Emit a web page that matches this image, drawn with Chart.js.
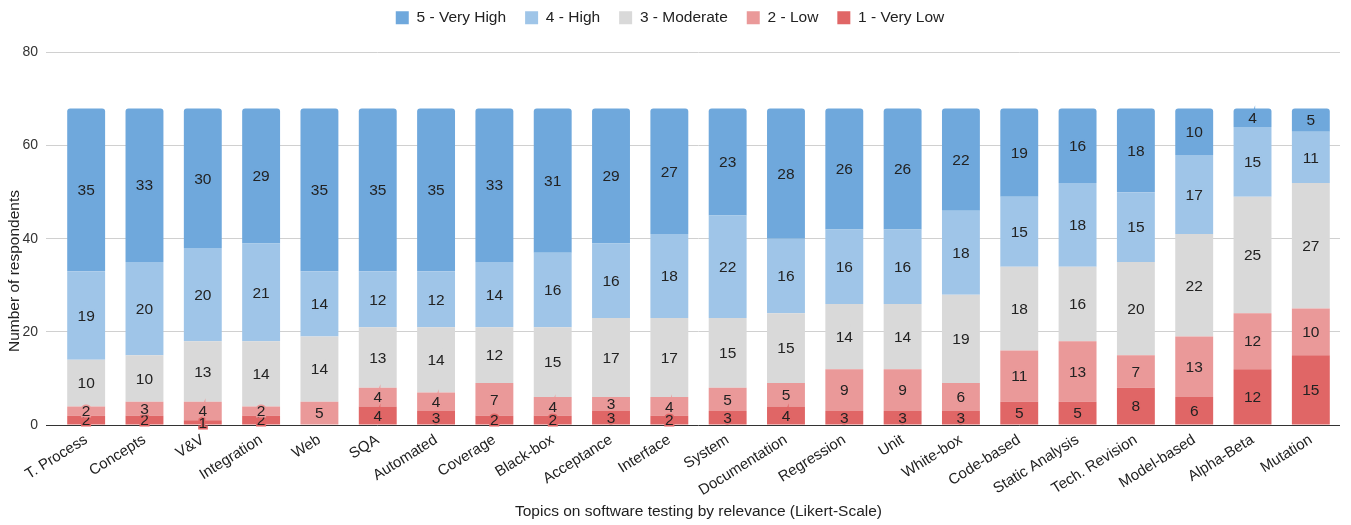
<!DOCTYPE html>
<html>
<head>
<meta charset="utf-8">
<script src="https://cdn.jsdelivr.net/npm/chart.js@4"></script>
<style>
  html, body { margin: 0; padding: 0; background: #fff; }
  #wrap { width: 1351px; height: 525px; position: relative; }
</style>
</head>
<body>
<div id="wrap"><canvas id="likertChart"></canvas></div>
<script>
var topics = ['T. Process', 'Concepts', 'V&V', 'Integration', 'Web', 'SQA', 'Automated', 'Coverage',
  'Black-box', 'Acceptance', 'Interface', 'System', 'Documentation', 'Regression', 'Unit', 'White-box',
  'Code-based', 'Static Analysis', 'Tech. Revision', 'Model-based', 'Alpha-Beta', 'Mutation'];

var veryHigh = [35, 33, 30, 29, 35, 35, 35, 33, 31, 29, 27, 23, 28, 26, 26, 22, 19, 16, 18, 10, 4, 5];
var high     = [19, 20, 20, 21, 14, 12, 12, 14, 16, 16, 18, 22, 16, 16, 16, 18, 15, 18, 15, 17, 15, 11];
var moderate = [10, 10, 13, 14, 14, 13, 14, 12, 15, 17, 17, 15, 15, 14, 14, 19, 18, 16, 20, 22, 25, 27];
var low      = [2, 3, 4, 2, 5, 4, 4, 7, 4, 3, 4, 5, 5, 9, 9, 6, 11, 13, 7, 13, 12, 10];
var veryLow  = [2, 2, 1, 2, 0, 4, 3, 2, 2, 3, 2, 3, 4, 3, 3, 3, 5, 5, 8, 6, 12, 15];

var yTicks = [0, 20, 40, 60, 80];

var fontFamily = "'Liberation Sans', Arial, sans-serif";

// write the value in the middle of every segment
var segmentLabels = {
  id: 'segmentLabels',
  afterDatasetsDraw: function (chart) {
    var ctx = chart.ctx;
    ctx.save();
    ctx.font = '15.5px ' + fontFamily;
    ctx.textAlign = 'center';
    ctx.textBaseline = 'middle';
    chart.data.datasets.forEach(function (ds, i) {
      var meta = chart.getDatasetMeta(i);
      meta.data.forEach(function (bar, j) {
        var v = ds.data[j];
        if (!v) return;
        var y = (bar.y + bar.base) / 2;
        ctx.lineWidth = 3;
        ctx.strokeStyle = ds.backgroundColor;
        ctx.strokeText(v, bar.x, y + 1);
        ctx.fillStyle = '#222';
        ctx.fillText(v, bar.x, y + 1);
      });
    });
    ctx.restore();
  }
};

// y axis title, centred on the whole picture like the original
var yTitle = {
  id: 'yTitle',
  afterDraw: function (chart) {
    var ctx = chart.ctx;
    ctx.save();
    ctx.translate(15, 271);
    ctx.rotate(-Math.PI / 2);
    ctx.font = '15.5px ' + fontFamily;
    ctx.fillStyle = '#222';
    ctx.textAlign = 'center';
    ctx.textBaseline = 'middle';
    ctx.fillText('Number of respondents', 0, 0);
    ctx.restore();
  }
};

// more room under the legend
var legendGap = {
  id: 'legendGap',
  beforeInit: function (chart) {
    var fit = chart.legend.fit;
    chart.legend.fit = function () {
      fit.bind(chart.legend)();
      this.height += 17;
    };
  }
};

function makeSet(label, data, color, radius) {
  return {
    label: label,
    data: data,
    backgroundColor: color,
    borderWidth: 0,
    borderRadius: radius || 0,
    borderSkipped: false,
    barPercentage: 0.65,
    categoryPercentage: 1
  };
}

new Chart(document.getElementById('likertChart'), {
  type: 'bar',
  data: {
    labels: topics,
    datasets: [
      makeSet('1 - Very Low', veryLow, '#e06666'),
      makeSet('2 - Low', low, '#ea9999'),
      makeSet('3 - Moderate', moderate, '#d9d9d9'),
      makeSet('4 - High', high, '#9fc5e8'),
      makeSet('5 - Very High', veryHigh, '#6fa8dc', { topLeft: 3, topRight: 3, bottomLeft: 0, bottomRight: 0 })
    ]
  },
  plugins: [segmentLabels, yTitle, legendGap],
  options: {
    responsive: true,
    maintainAspectRatio: false,
    animation: false,
    layout: {
      padding: { left: 0, right: 11, top: -9, bottom: 4 }
    },
    scales: {
      x: {
        stacked: true,
        grid: { display: false, drawTicks: false },
        border: { display: false },
        afterFit: function (scale) {
          scale.height = 96;
        },
        ticks: {
          color: '#222',
          font: { family: fontFamily, size: 15 },
          minRotation: 32,
          maxRotation: 32,
          autoSkip: false,
          padding: 6
        },
        title: {
          display: true,
          text: 'Topics on software testing by relevance (Likert-Scale)',
          color: '#222',
          font: { family: fontFamily, size: 15.5 },
          padding: { top: 0, bottom: 0 }
        }
      },
      y: {
        stacked: true,
        min: 0,
        max: 80,
        afterBuildTicks: function (scale) {
          scale.ticks = yTicks.map(function (v) { return { value: v }; });
        },
        afterFit: function (scale) {
          scale.width = 57;
        },
        grid: {
          drawTicks: true,
          tickLength: 11,
          color: function (c) { return c.tick && c.tick.value === 0 ? '#333' : '#d0d0d0'; },
          lineWidth: 1
        },
        border: { display: false },
        ticks: {
          color: '#333',
          font: { family: fontFamily, size: 14 },
          padding: 8
        }
      }
    },
    plugins: {
      legend: {
        position: 'top',
        reverse: true,
        labels: {
          color: '#222',
          font: { family: fontFamily, size: 15.5 },
          boxWidth: 13,
          boxHeight: 13,
          padding: 19
        }
      },
      tooltip: { enabled: false }
    }
  }
});
</script>
</body>
</html>
